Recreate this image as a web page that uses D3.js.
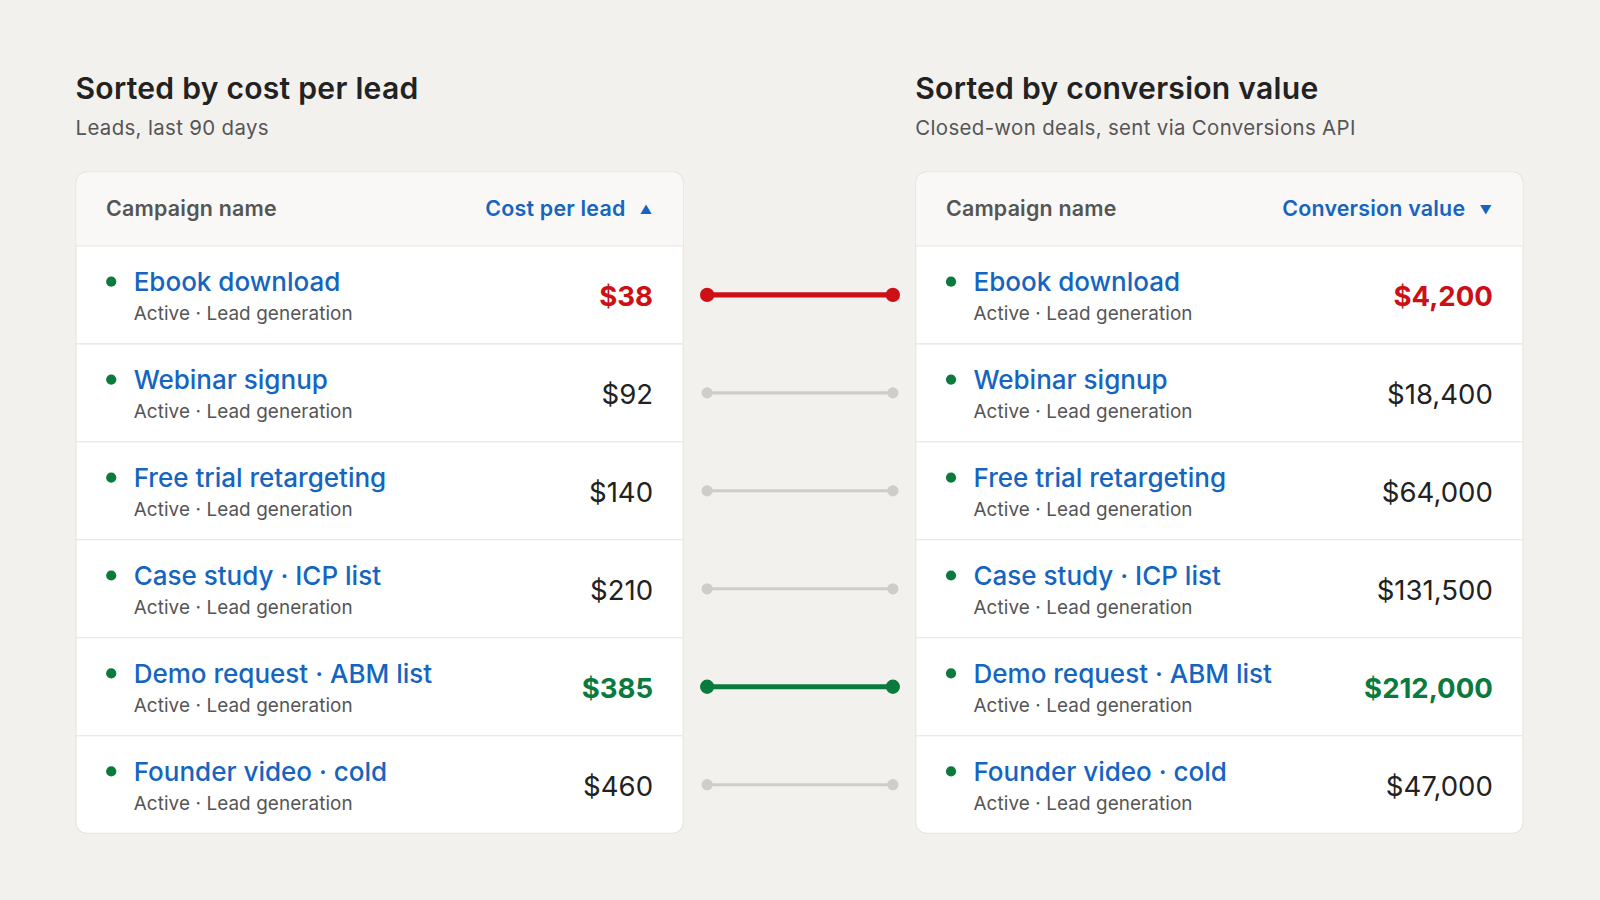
<!DOCTYPE html><html><head><meta charset="utf-8">
<script src="https://cdn.jsdelivr.net/npm/d3@7"></script>
<style>body{margin:0;background:#f3f1ee;}svg{display:block;font-family:Inter,"Noto Sans",sans-serif;}</style></head><body>
<svg id="c" width="1600" height="900" viewBox="0 0 1568 882"></svg>
<script>
const campaigns=["Ebook download","Webinar signup","Free trial retargeting","Case study · ICP list","Demo request · ABM list","Founder video · cold"];
const costPerLead=[38,92,140,210,385,460];
const conversionValue=[4200,18400,64000,131500,212000,47000];
const highlight=["red",null,null,null,"green",null,];
const colors={red:"#cc1016",green:"#0a7a3d"};
const svg=d3.select("#c");
svg.append("rect").attr("width",1568).attr("height",882).attr("fill","#f3f1ee");
const y=d3.scaleBand().domain(d3.range(campaigns.length)).range([241,817]);
function panel(x0,title,sub,colLabel,arrow,vals,fmt){
  const w=595;
  const g=svg.append("g");
  g.append("text").attr("x",x0).attr("y",97).attr("font-size",29.5).attr("letter-spacing",0.25).attr("font-weight",600).attr("fill","#222").text(title);
  g.append("text").attr("x",x0).attr("y",132).attr("font-size",20).attr("letter-spacing",0.35).attr("fill","#555").text(sub);
  g.append("rect").attr("x",x0+0.5).attr("y",168.5).attr("width",w).attr("height",648).attr("rx",10).attr("fill","#fff").attr("stroke","#e6e3de");
  g.append("path").attr("d",`M${x0+1},241 V179 a10,10 0 0 1 10,-10 H${x0+w-10} a10,10 0 0 1 10,10 V241 Z`).attr("fill","#f9f8f6");
  g.append("line").attr("x1",x0).attr("x2",x0+w).attr("y1",241).attr("y2",241).attr("stroke","#e6e3de");
  g.append("text").attr("x",x0+30).attr("y",212).attr("font-size",21).attr("letter-spacing",0.2).attr("font-weight",600).attr("fill","#555").text("Campaign name");
  g.append("text").attr("x",x0+w-56).attr("y",212).attr("font-size",21).attr("letter-spacing",0.2).attr("font-weight",600).attr("fill","#1565c0").attr("text-anchor","end").text(colLabel);
  g.append("text").attr("x",x0+w-30).attr("y",210).attr("font-size",12).attr("fill","#1565c0").attr("text-anchor","end").text(arrow);
  const r=g.selectAll(".r").data(campaigns).join("g").attr("transform",(d,i)=>`translate(0,${y(i)})`);
  r.filter((d,i)=>i>0).append("line").attr("x1",x0).attr("x2",x0+w).attr("stroke","#e6e3de");
  r.append("circle").attr("cx",x0+35).attr("cy",35).attr("r",5).attr("fill","#0a7a3d");
  r.append("text").attr("x",x0+57).attr("y",44).attr("font-size",25.5).attr("font-weight",500).attr("fill","#1565c0").text(d=>d);
  r.append("text").attr("x",x0+57).attr("y",73).attr("font-size",18.5).attr("letter-spacing",0.1).attr("fill","#555").text("Active · Lead generation");
  r.append("text").attr("x",x0+w-29).attr("y",59).attr("text-anchor","end").attr("font-size",27)
    .attr("font-weight",(d,i)=>highlight[i]?700:400).attr("fill",(d,i)=>highlight[i]?colors[highlight[i]]:"#222").text((d,i)=>fmt(vals[i]));
}
panel(74,"Sorted by cost per lead","Leads, last 90 days","Cost per lead","▲",costPerLead,v=>"$"+d3.format(",")(v));
panel(897,"Sorted by conversion value","Closed-won deals, sent via Conversions API","Conversion value","▼",conversionValue,v=>"$"+d3.format(",")(v));
const rightIndex=campaigns.map((d,i)=>i);
const cg=svg.append("g");
campaigns.forEach((d,i)=>{
  const h=highlight[i];const col=h?colors[h]:"#d0cdc8";
  const y1=y(i)+48,y2=y(rightIndex[i])+48;
  cg.append("line").attr("x1",693).attr("x2",875).attr("y1",y1).attr("y2",y2).attr("stroke",col).attr("stroke-width",h?5:3);
  [[693,y1],[875,y2]].forEach(p=>cg.append("circle").attr("cx",p[0]).attr("cy",p[1]).attr("r",h?7:5.5).attr("fill",col));
});
</script></body></html>
